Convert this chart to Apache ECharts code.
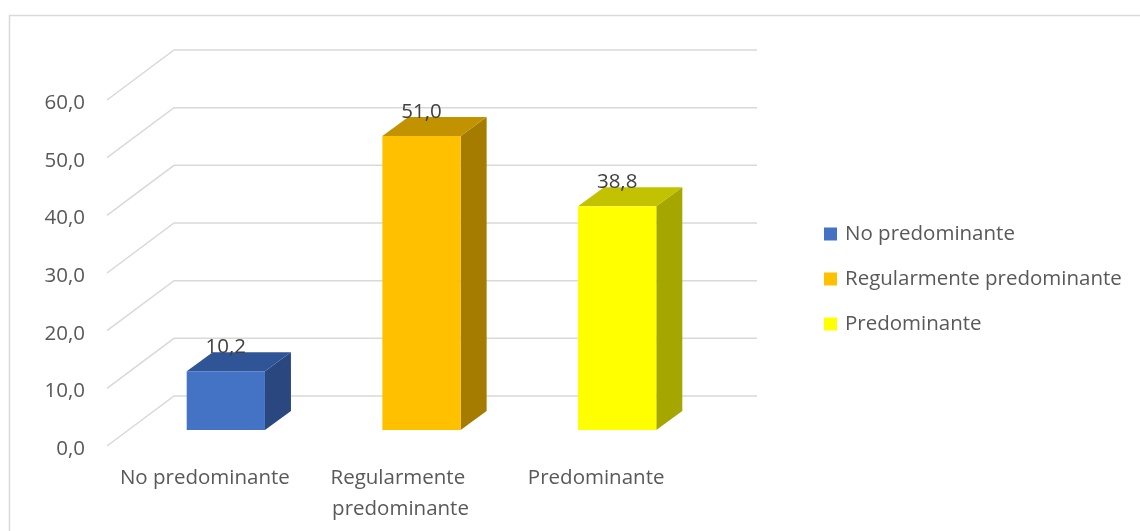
<!DOCTYPE html>
<html>
<head>
<meta charset="utf-8">
<script src="https://cdn.jsdelivr.net/npm/echarts@6.0.0/dist/echarts.min.js"></script>
<style>
  html, body { margin: 0; padding: 0; background: #fff; }
  #chart { width: 1140px; height: 531px; }
</style>
</head>
<body>
<div id="chart"></div>
<script>
const categories = ['No predominante', 'Regularmente predominante', 'Predominante'];
const values = [10.2, 51.0, 38.8];
const yTicks = [0, 10, 20, 30, 40, 50, 60];

// front / top / side shades for each box
const shades = [
    { front: '#4472C4', top: '#2F5597', side: '#2A4780' },
    { front: '#FFC000', top: '#C39200', side: '#A67C00' },
    { front: '#FFFF00', top: '#C2C200', side: '#A6A600' }
];

const chart = echarts.init(document.getElementById('chart'));
const fontFamily = '"Open Sans", sans-serif';
const fmt = v => v.toFixed(1).replace('.', ',');

// depth of the bars and of the walls, in pixels
const barDepth = [26, -19];
const backWall = [46, -34];
const frontEdge = [-21, 16];

function renderGrid(params, api) {
    const cs = params.coordSys;
    const y = api.coord([0, api.value(1)])[1];
    return {
        type: 'polyline',
        shape: {
            points: [
                [cs.x + frontEdge[0], y + frontEdge[1]],
                [cs.x + backWall[0], y + backWall[1]],
                [cs.x + cs.width + 42, y + backWall[1]]
            ]
        },
        style: { stroke: '#D9D9D9', lineWidth: 1.5, fill: null },
        silent: true
    };
}

function makeBarRenderer(shade) {
    return function (params, api) {
        const cat = api.value(0);
        const val = api.value(1);
        const top = api.coord([cat, val]);
        const base = api.coord([cat, 0]);
        const bw = api.size([1, 0])[0] * 0.4;
        const x0 = top[0] - bw / 2;
        const x1 = top[0] + bw / 2;
        const dx = barDepth[0], dy = barDepth[1];
        return {
            type: 'group',
            children: [
                {
                    type: 'polygon',
                    shape: { points: [[x1, top[1]], [x1 + dx, top[1] + dy], [x1 + dx, base[1] + dy], [x1, base[1]]] },
                    style: { fill: shade.side }
                },
                {
                    type: 'polygon',
                    shape: { points: [[x0, top[1]], [x0 + dx, top[1] + dy], [x1 + dx, top[1] + dy], [x1, top[1]]] },
                    style: { fill: shade.top }
                },
                {
                    type: 'rect',
                    shape: { x: x0, y: top[1], width: bw, height: base[1] - top[1] },
                    style: { fill: shade.front }
                },
                {
                    type: 'text',
                    style: {
                        text: fmt(val),
                        x: top[0],
                        y: top[1] - 24,
                        align: 'center',
                        verticalAlign: 'middle',
                        fill: '#404040',
                        font: '20.5px ' + fontFamily
                    }
                }
            ]
        };
    };
}

const barSeries = categories.map((name, i) => ({
    name: name,
    type: 'custom',
    xAxisIndex: 0,
    yAxisIndex: 0,
    itemStyle: { color: shades[i].front },
    renderItem: makeBarRenderer(shades[i]),
    encode: { x: 0, y: 1 },
    data: [[i, values[i]]],
    z: 3
}));

const option = {
    backgroundColor: '#fff',
    animation: false,
    textStyle: { fontFamily: fontFamily },
    graphic: [
        {
            type: 'rect',
            shape: { x: 9.5, y: 15.5, width: 1300, height: 700 },
            style: { fill: null, stroke: '#D9D9D9', lineWidth: 1.5 },
            silent: true
        }
    ],
    legend: {
        orient: 'vertical',
        left: 819,
        top: 217,
        itemWidth: 13,
        itemHeight: 13,
        itemGap: 21,
        icon: 'rect',
        data: categories,
        textStyle: { color: '#595959', fontSize: 20.5, lineHeight: 24, fontFamily: fontFamily, padding: [0, 0, 0, 3] }
    },
    grid: [
        { left: 128, top: 84, width: 587, height: 346 },
        { left: 107, top: 103, width: 587, height: 346 }
    ],
    xAxis: [
        { type: 'category', gridIndex: 0, data: categories, show: false },
        {
            type: 'category',
            gridIndex: 1,
            data: categories,
            axisLine: { show: false },
            axisTick: { show: false },
            axisLabel: {
                interval: 0,
                color: '#595959',
                fontSize: 20.5,
                lineHeight: 31,
                margin: 14,
                width: 180,
                overflow: 'break',
                fontFamily: fontFamily
            }
        }
    ],
    yAxis: [
        { type: 'value', gridIndex: 0, min: 0, max: 60, interval: 10, show: false },
        {
            type: 'value',
            gridIndex: 1,
            min: 0,
            max: 60,
            interval: 10,
            axisLine: { show: false },
            axisTick: { show: false },
            splitLine: { show: false },
            axisLabel: {
                color: '#595959',
                fontSize: 20.5,
                margin: 22,
                fontFamily: fontFamily,
                formatter: fmt
            }
        }
    ],
    series: [
        {
            type: 'custom',
            name: 'grid',
            xAxisIndex: 0,
            yAxisIndex: 0,
            renderItem: renderGrid,
            encode: { x: 0, y: 1 },
            data: yTicks.map(v => [0, v]),
            silent: true,
            z: 1
        }
    ].concat(barSeries)
};

chart.setOption(option);
</script>
</body>
</html>
